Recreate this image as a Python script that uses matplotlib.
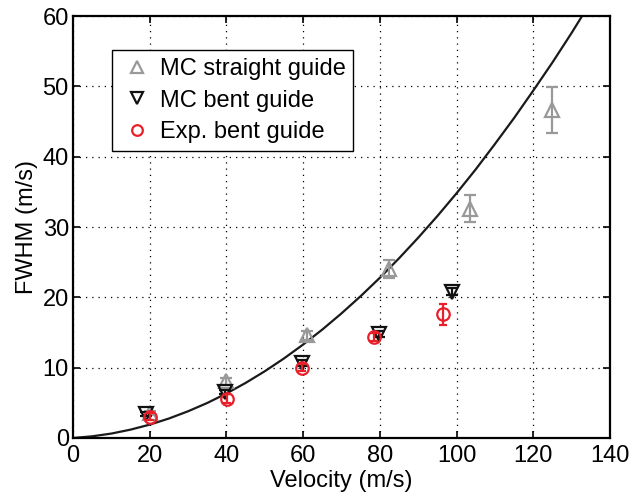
import matplotlib
matplotlib.use('Agg')
import matplotlib.pyplot as plt

plt.rcParams['font.family'] = ['Liberation Sans', 'DejaVu Sans']

# theory curve
curve_v = [0, 5, 10, 15, 20, 25, 30, 35, 40, 45, 50, 55, 60, 65, 70, 75, 80,
           85, 90, 95, 100, 105, 110, 115, 120, 125, 130, 135]
curve_w = [0, 0.24, 0.63, 1.19, 1.9, 2.77, 3.8, 4.98, 6.33, 7.83, 9.49, 11.31,
           13.29, 15.42, 17.72, 20.17, 22.78, 25.55, 28.48, 31.56, 34.8, 38.2,
           41.8, 45.5, 49.4, 53.4, 57.6, 62.0]

# MC straight guide
str_v = [20, 40, 61, 82.5, 103.5, 125]
str_w = [3.6, 8.1, 14.6, 24.0, 32.6, 46.6]
str_e = [0.3, 0.5, 0.6, 1.3, 1.9, 3.3]

# MC bent guide
bent_v = [19, 39.7, 59.8, 79.8, 98.9]
bent_w = [3.4, 6.5, 10.7, 14.8, 20.8]
bent_e = [0.3, 0.3, 0.4, 0.4, 0.5]

# Exp. bent guide
exp_v = [20.1, 40.1, 59.8, 78.6, 96.5]
exp_w = [3.0, 5.6, 10.0, 14.4, 17.6]
exp_e = [0.5, 0.6, 0.5, 0.6, 1.5]

gray = '#999999'
red = '#e8202a'
fs = 17

fig = plt.figure(figsize=(6.42, 4.92), dpi=100)
ax = fig.add_axes([73/642, 1-438/492, 537/642, 422/492])

ax.plot(curve_v, curve_w, '-', color='#1a1a1a', lw=1.6, zorder=2)

ax.errorbar(str_v, str_w, yerr=str_e, fmt='^', color=gray, mfc='none', mec=gray,
            ms=10, mew=1.6, elinewidth=1.6, capsize=4.3, capthick=1.6,
            label='MC straight guide', zorder=3)
ax.errorbar(bent_v, bent_w, yerr=bent_e, fmt='v', color='#111111', mfc='none', mec='#111111',
            ms=10, mew=1.6, elinewidth=1.6, capsize=4.3, capthick=1.6,
            label='MC bent guide', zorder=4)
ax.errorbar(exp_v, exp_w, yerr=exp_e, fmt='o', color=red, mfc='none', mec=red,
            ms=9, mew=1.6, elinewidth=1.6, capsize=3, capthick=1.6,
            label='Exp. bent guide', zorder=5)

ax.set_xlim(0, 140)
ax.set_ylim(0, 60)
ax.set_xticks(range(0, 141, 20))
ax.set_yticks(range(0, 61, 10))
ax.grid(True, ls=(0, (1, 4)), color='black', lw=0.9)
ax.tick_params(direction='in', top=True, right=True, labelsize=fs, length=5, width=1.2)
ax.tick_params(axis='x', pad=5)
ax.tick_params(axis='y', pad=3)
for s in ax.spines.values():
    s.set_linewidth(1.6)
ax.set_xlabel('Velocity (m/s)', fontsize=fs, labelpad=2)
ax.set_ylabel('FWHM (m/s)', fontsize=fs, labelpad=3)

h, l = ax.get_legend_handles_labels()
h = [x[0] for x in h]
leg = ax.legend(h, l, loc='upper left', bbox_to_anchor=(0.072, 0.919), fontsize=fs,
                frameon=True, fancybox=False, edgecolor='black', framealpha=1,
                handlelength=1.48, handletextpad=0.23, labelspacing=0.41, markerscale=0.85,
                borderpad=0.33, borderaxespad=0)
leg.get_frame().set_linewidth(1.0)

fig.savefig('out.png', dpi=100)
